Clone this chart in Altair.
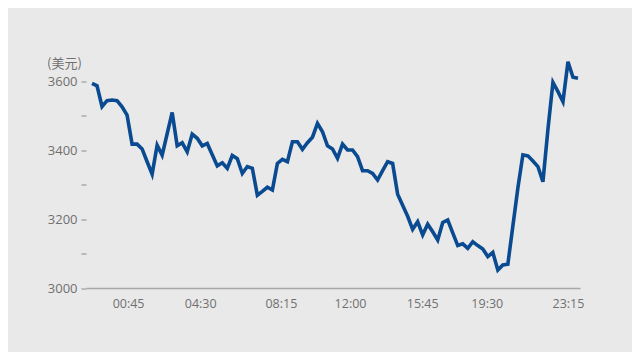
import altair as alt
import pandas as pd

prices = [3593, 3586, 3526, 3543, 3545, 3543, 3525, 3501, 3417, 3417,
          3403, 3366, 3330, 3414, 3385, 3447, 3509, 3412, 3421, 3395,
          3446, 3434, 3412, 3419, 3386, 3354, 3363, 3347, 3384, 3375,
          3332, 3352, 3347, 3269, 3280, 3292, 3284, 3361, 3373, 3366,
          3424, 3424, 3402, 3421, 3437, 3477, 3453, 3412, 3403, 3376,
          3417, 3400, 3400, 3381, 3340, 3340, 3332, 3313, 3340, 3366,
          3361, 3272, 3240, 3208, 3170, 3192, 3154, 3185, 3163, 3139,
          3190, 3197, 3160, 3123, 3128, 3115, 3134, 3123, 3113, 3091,
          3103, 3052, 3067, 3069, 3180, 3290, 3386, 3383, 3368, 3352,
          3308, 3460, 3596, 3569, 3540, 3656, 3611, 3608]

time_labels = ["00:45", "04:30", "08:15", "12:00", "15:45", "19:30", "23:15"]
time_label_pos = [7.2, 21.6, 37.7, 51.5, 65.9, 78.8, 95.0]

y_ticks = [3000, 3100, 3200, 3300, 3400, 3500, 3600]

df = pd.DataFrame({"idx": list(range(len(prices))), "price": prices})

pos_js = "[" + ",".join(str(p) for p in time_label_pos) + "]"
lab_js = "[" + ",".join("'" + t + "'" for t in time_labels) + "]"
x_label_expr = f"{lab_js}[indexof({pos_js}, datum.value)]"

chart = alt.Chart(df).mark_line(
    color="#0a4a90", strokeWidth=3.6
).encode(
    x=alt.X("idx:Q",
            scale=alt.Scale(domain=[-1.2, 97.4], nice=False, zero=False),
            axis=alt.Axis(values=time_label_pos, labelExpr=x_label_expr,
                          title=None, grid=False, ticks=False,
                          domain=True, domainColor="#a8a8a8", domainWidth=1.5,
                          labelColor="#707070", labelFontSize=12.5,
                          labelFont="Open Sans", labelPadding=9,
                          labelFlush=False, labelOverlap=False)),
    y=alt.Y("price:Q",
            scale=alt.Scale(domain=[3000, 3700], nice=False, zero=False),
            axis=alt.Axis(values=y_ticks,
                          labelExpr="datum.value % 200 == 0 ? toString(datum.value) : ''",
                          title="(美元)", titleAngle=0, titleAlign="center",
                          titleBaseline="middle", titleX=-22, titleY=16.5,
                          titleFont="Noto Sans CJK SC", titleFontSize=13,
                          titleFontWeight="normal", titleColor="#707070",
                          grid=False, domain=False, tickSize=5,
                          tickColor="#9a9a9a", tickWidth=1.2,
                          labelColor="#707070", labelFontSize=13,
                          labelFont="Open Sans", labelPadding=4,
                          labelOverlap=False)),
).properties(
    width=494,
    height=241.5,
    autosize=alt.AutoSizeParams(type="none"),
    padding={"left": 78, "top": 38.5, "right": 52, "bottom": 64},
).configure(
    background="#e9e9e9"
).configure_view(
    stroke=None
)

chart.save("out.html", embed_options={"renderer": "svg", "actions": False})
